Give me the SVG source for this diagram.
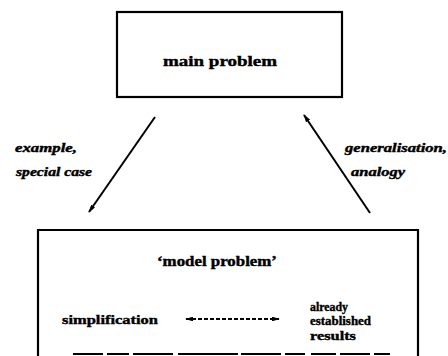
<svg xmlns="http://www.w3.org/2000/svg" width="448" height="356" viewBox="0 0 448 356">
<style>
.box{fill:none;stroke:#000;stroke-width:2.2}
.t{font-family:"Liberation Serif",serif;font-weight:bold;fill:#000;stroke:#000;stroke-width:0.4}
.lab{font-family:"Liberation Serif",serif;font-weight:bold;font-style:italic;fill:#000;stroke:#000;stroke-width:0.4;font-size:12px}
.conn{stroke:#000;stroke-width:2;fill:none}
.dash{stroke:#000;stroke-width:2;fill:none;stroke-dasharray:4 2}
</style>
<defs>
<marker id="ah" viewBox="0 0 10 6" refX="9" refY="3" markerWidth="4" markerHeight="2.4" orient="auto" markerUnits="strokeWidth">
<path d="M0,0 L10,3 L0,6 Z" fill="#000"/>
</marker>
<marker id="ahs" viewBox="0 0 10 6" refX="1" refY="3" markerWidth="4" markerHeight="2.4" orient="auto" markerUnits="strokeWidth">
<path d="M10,0 L0,3 L10,6 Z" fill="#000"/>
</marker>
</defs>
<g id="main-problem">
<rect class="box" x="117" y="12" width="225" height="85"/>
<text class="t" x="220" y="66" font-size="15" text-anchor="middle" textLength="114" lengthAdjust="spacingAndGlyphs">main problem</text>
</g>
<g id="model-problem">
<path class="box" d="M38,356 L38,230 L418,230 L418,356"/>
<path class="box" d="M73,354 L390,354" stroke-dasharray="30 4 22 4 40 5 60 3 40 4 20 6 25 4"/>
<text class="t" x="217" y="266" font-size="14" text-anchor="middle" textLength="120" lengthAdjust="spacingAndGlyphs">‘model problem’</text>
<text class="t" x="62" y="324" font-size="13" textLength="96" lengthAdjust="spacingAndGlyphs">simplification</text>
<text class="t" x="310" y="311" font-size="13" textLength="38" lengthAdjust="spacingAndGlyphs">already</text>
<text class="t" x="310" y="325" font-size="13" textLength="61" lengthAdjust="spacingAndGlyphs">established</text>
<text class="t" x="310" y="340" font-size="13" textLength="46" lengthAdjust="spacingAndGlyphs">results</text>
</g>
<g id="connectors">
<line class="conn" x1="155" y1="117" x2="89" y2="212" marker-end="url(#ah)"/>
<line class="conn" x1="370" y1="213" x2="304" y2="115" marker-end="url(#ah)"/>
<line class="dash" x1="186" y1="319" x2="279" y2="319" marker-start="url(#ahs)" marker-end="url(#ah)"/>
<text class="lab" x="15" y="152" textLength="62" lengthAdjust="spacingAndGlyphs">example,</text>
<text class="lab" x="16" y="176" textLength="76" lengthAdjust="spacingAndGlyphs">special case</text>
<text class="lab" x="345" y="152" textLength="102" lengthAdjust="spacingAndGlyphs">generalisation,</text>
<text class="lab" x="351" y="176" textLength="54" lengthAdjust="spacingAndGlyphs">analogy</text>
</g>
</svg>
